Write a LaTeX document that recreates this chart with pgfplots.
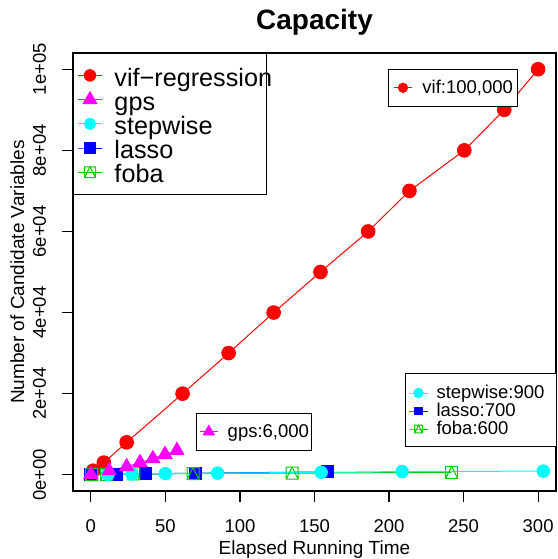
\documentclass[border=0pt]{standalone}
\usepackage{fontspec}
\setmainfont{Liberation Sans}
\usepackage{pgfplots}
\pgfplotsset{compat=1.18}

\definecolor{rred}{HTML}{FF0000}
\definecolor{rmag}{HTML}{FF00FF}
\definecolor{rcyan}{HTML}{00FFFF}
\definecolor{rblue}{HTML}{0000FF}
\definecolor{rgreen}{HTML}{00CD00}

% R pch 14: open square with a triangle inside
\pgfdeclareplotmark{sqtri}{%
  \pgfpathrectangle{\pgfqpoint{-\pgfplotmarksize}{-\pgfplotmarksize}}%
                   {\pgfqpoint{2\pgfplotmarksize}{2\pgfplotmarksize}}%
  \pgfpathmoveto{\pgfqpoint{-\pgfplotmarksize}{-\pgfplotmarksize}}%
  \pgfpathlineto{\pgfqpoint{0pt}{\pgfplotmarksize}}%
  \pgfpathlineto{\pgfqpoint{\pgfplotmarksize}{-\pgfplotmarksize}}%
  \pgfusepathqstroke}

\newcommand\ticksize{\fontsize{9.25}{11}\selectfont}
\newcommand\labsize{\fontsize{9.5}{11}\selectfont}
\newcommand\bigleg{\fontsize{12.6}{15}\selectfont}
\newcommand\smallleg{\fontsize{9.25}{11}\selectfont}

\pgfplotsset{
  frame/.style={width=241.5pt, height=219pt, scale only axis,
    at={(0,0)}, anchor=south west,
    xmin=-12, xmax=312, ymin=-4000, ymax=104000},
  boxleg/.style={draw=black, line width=0.5pt, fill=white, row sep=0pt},
}

\begin{document}
\begin{tikzpicture}
% page extent of the reference picture, axis box at (0,0)--(241.5pt,219pt)
\path (-36.5pt,-34pt) rectangle (242pt,245.5pt);
\begin{axis}[
  frame,
  axis line style={line width=0.6pt},
  tick align=outside, tick pos=left,
  major tick length=5.5pt,
  tick style={black, line width=0.6pt},
  xtick={0,50,100,150,200,250,300},
  xticklabels={0,50,100,150,200,250,300},
  ytick={0,20000,40000,60000,80000,100000},
  yticklabels={0e+00,2e+04,4e+04,6e+04,8e+04,1e+05},
  scaled y ticks=false,
  xticklabel style={font=\ticksize, anchor=north, inner sep=0pt, yshift=-8.5pt},
  yticklabel style={font=\ticksize, xshift=-8pt, rotate=90, anchor=base, inner sep=0pt},
  title={Capacity},
  every axis title shift=0pt,
  title style={at={(axis description cs:0.5,1.0548)}, anchor=base, inner sep=0pt,
    font=\fontsize{14}{16}\selectfont\bfseries},
  xlabel={Elapsed Running Time},
  xlabel style={at={(axis description cs:0.5,-0.1461)}, anchor=base, inner sep=0pt, font=\labsize},
  ylabel={Number of Candidate Variables},
  ylabel style={at={(axis description cs:-0.1014,0.5)}, anchor=base, inner sep=0pt, font=\labsize},
  legend cell align=left,
  legend style={boxleg, at={(0,1)}, anchor=north west,
    inner xsep=2pt, inner ysep=5.1pt,
    nodes={inner sep=0pt, text height=11.2pt, text depth=0.9pt, font=\bigleg},
    /tikz/every odd column/.append style={column sep=6pt},
    /tikz/column 2/.style={text width=74pt}},
  legend image code/.code={\draw[mark repeat=2,mark phase=2,#1]
    plot coordinates {(0pt,0.2pt) (6pt,0.2pt) (12pt,0.2pt)};},
]
% vif-regression
\addplot[rred, line width=0.5pt, mark=*, mark size=3.4pt, forget plot] coordinates {
  (1.5,1000) (8.7,3000) (24,8000) (61.5,20000) (92.4,30000) (122.6,40000)
  (154,50000) (186,60000) (213.7,70000) (250.5,80000) (277.3,90000) (300,100000)
};
% lasso
\addplot[rblue, line width=0.5pt, mark=square*, mark size=3pt, forget plot] coordinates {
  (0,50) (17.2,100) (36.6,200) (70,400) (159,700)
};
% foba
\addplot[rgreen, line width=0.5pt, mark=sqtri, mark size=3pt, forget plot] coordinates {
  (0.5,50) (10.5,100) (28.8,200) (68.5,300) (135,400) (242,600)
};
% stepwise
\addplot[rcyan, line width=0.5pt, mark=*, mark size=3.1pt, forget plot] coordinates {
  (11.5,100) (27.6,200) (50,300) (85,400) (154.5,600) (208.8,800) (303.5,900)
};
% gps
\addplot[rmag, line width=0.5pt, mark=triangle*, mark size=4pt, forget plot] coordinates {
  (0,100) (12.3,1000) (24,2000) (33,3000) (41.6,4000) (49.7,5000) (57.7,6000)
};
\addlegendimage{rred, line width=0.5pt, mark=*, mark size=2.85pt}
\addlegendimage{rmag, line width=0.5pt, mark=triangle*, mark size=3.9pt}
\addlegendimage{rcyan, line width=0.5pt, mark=*, mark size=2.8pt}
\addlegendimage{rblue, line width=0.5pt, mark=square*, mark size=2.7pt}
\addlegendimage{rgreen, line width=0.5pt, mark=sqtri, mark size=2.7pt}
\legend{vif−regression, gps, stepwise, lasso, foba}
\end{axis}

% vif:100,000
\begin{axis}[frame, hide axis,
  legend cell align=left,
  legend style={boxleg, at={(0.9213,0.9635)}, anchor=north east,
    inner xsep=2.25pt, inner ysep=4.1pt,
    nodes={inner sep=0pt, text height=7.9pt, text depth=2.2pt, font=\smallleg},
    /tikz/every odd column/.append style={column sep=5pt}},
  legend image code/.code={\draw[mark repeat=2,mark phase=2,#1]
    plot coordinates {(0pt,0pt) (4.5pt,0pt) (9pt,0pt)};},
]
\addlegendimage{rred, line width=0.5pt, mark=*, mark size=2.3pt}
\addlegendentry{vif:100,000}
\end{axis}

% gps:6,000
\begin{axis}[frame, hide axis,
  legend cell align=left,
  legend style={boxleg, at={(0.2547,0.1781)}, anchor=north west,
    inner xsep=1.3pt, inner ysep=4.1pt,
    nodes={inner sep=0pt, text height=7.9pt, text depth=2.2pt, font=\smallleg},
    /tikz/every odd column/.append style={column sep=4.6pt}},
  legend image code/.code={\draw[mark repeat=2,mark phase=2,#1]
    plot coordinates {(0pt,0pt) (4.6pt,0pt) (9.2pt,0pt)};},
]
\addlegendimage{rmag, line width=0.5pt, mark=triangle*, mark size=3.2pt}
\addlegendentry{gps:6,000}
\end{axis}

% stepwise / lasso / foba
\begin{axis}[frame, hide axis,
  legend cell align=left,
  legend style={boxleg, at={(0.6874,0.2694)}, anchor=north west,
    inner xsep=1.5pt, inner ysep=4.75pt,
    nodes={inner sep=0pt, text height=7.9pt, text depth=1.1pt, font=\smallleg},
    /tikz/every odd column/.append style={column sep=4pt},
    /tikz/column 2/.style={text width=58.5pt}},
  legend image code/.code={\draw[mark repeat=2,mark phase=2,#1]
    plot coordinates {(0pt,-0.5pt) (4.75pt,-0.5pt) (9.5pt,-0.5pt)};},
]
\addlegendimage{rcyan, line width=0.5pt, mark=*, mark size=2.3pt}
\addlegendimage{rblue, line width=0.5pt, mark=square*, mark size=1.9pt}
\addlegendimage{rgreen, line width=0.5pt, mark=sqtri, mark size=1.9pt}
\legend{stepwise:900, lasso:700, foba:600}
\end{axis}
\end{tikzpicture}
\end{document}
